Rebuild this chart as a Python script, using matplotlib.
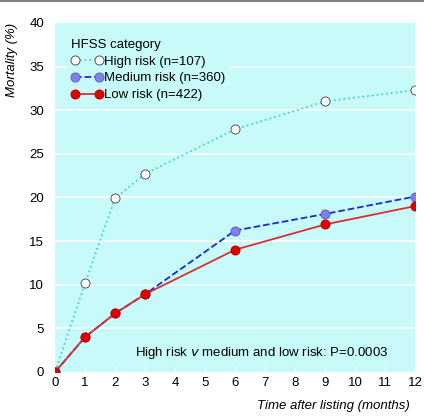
import matplotlib.pyplot as plt
from matplotlib.lines import Line2D

# dados
meses = [0, 1, 2, 3, 6, 9, 12]
alto = [0, 10.2, 19.9, 22.7, 27.8, 31.0, 32.3]
medio = [0, 4.0, 6.7, 8.9, 16.2, 18.1, 20.1]
baixo = [0, 4.0, 6.7, 8.9, 14.0, 16.9, 19.0]

plt.rcParams['font.family'] = ['Liberation Sans', 'DejaVu Sans']
plt.rcParams['font.size'] = 9.5

fig = plt.figure(figsize=(4.24, 4.16), dpi=100)
ax = fig.add_axes([0.13, 0.106, 0.849, 0.839])
ax.set_facecolor('#c8fafa')

for y in range(5, 40, 5):
    ax.axhline(y, color='white', lw=1.2, zorder=1)

ax.plot(meses, alto, ':', color='#40d8c0', lw=1.3, marker='o', ms=6.5,
        mfc='white', mec='#555555', mew=0.7, zorder=3, label='High risk (n=107)')
ax.plot(meses, medio, '--', color='#1a2ad0', lw=1.3, marker='o', ms=6.5,
        mfc='#8080e8', mec='#6060c0', mew=0.7, zorder=3, label='Medium risk (n=360)')
ax.plot(meses, baixo, '-', color='#d83030', lw=1.3, marker='o', ms=6.5,
        mfc='#e00000', mec='#c00000', mew=0.7, zorder=4, label='Low risk (n=422)')

ax.set_xlim(0, 12)
ax.set_ylim(0, 40)
ax.set_xticks(range(0, 13))
ax.set_yticks(range(0, 41, 5))
ax.tick_params(axis='x', direction='in', color='white', length=4, pad=4)
ax.tick_params(axis='y', length=0, pad=8)
for s in ax.spines.values():
    s.set_visible(False)

leg = ax.legend(loc='upper left', title='HFSS category', frameon=True,
                facecolor='#c8fafa', edgecolor='none', framealpha=1,
                numpoints=2, handlelength=2.4, handletextpad=0.1,
                borderaxespad=0.8, labelspacing=0.35)
leg._legend_box.align = 'left'

ax.text(11.1, 2.2, 'High risk $\\it{v}$ medium and low risk: P=0.0003', ha='right', va='center')

fig.text(0.028, 0.945, 'Mortality (%)', rotation=90, style='italic', ha='center', va='top')
fig.text(0.967, 0.01, 'Time after listing (months)', style='italic', ha='right', va='bottom')
fig.add_artist(Line2D([0, 1], [0.998, 0.998], color='#808080', lw=1.5))

fig.savefig('out.png', dpi=100)
